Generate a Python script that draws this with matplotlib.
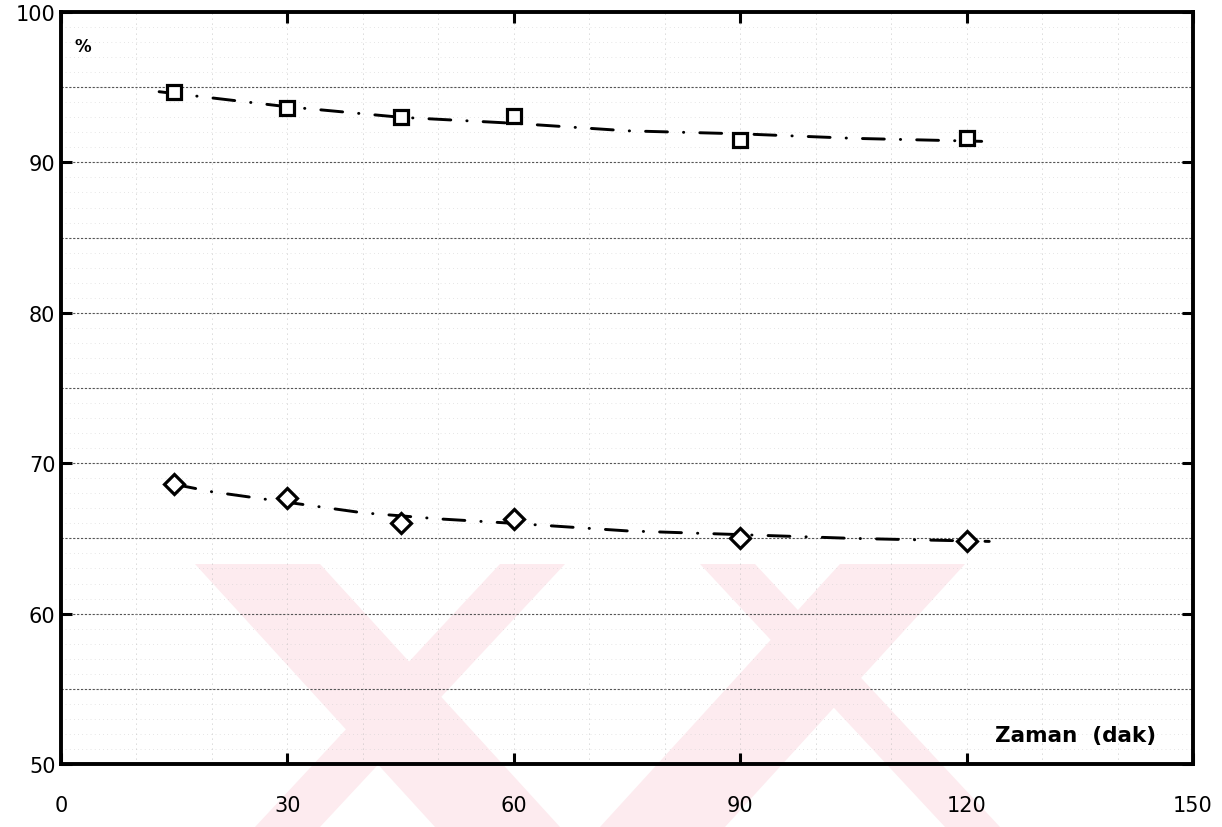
import numpy as np
import matplotlib.pyplot as plt
from matplotlib.patches import Polygon

# measured points (time in min, %)
t = [15, 30, 45, 60, 90, 120]
sq_vals = [94.7, 93.6, 93.0, 93.1, 91.5, 91.6]
di_vals = [68.6, 67.7, 66.0, 66.3, 65.0, 64.8]

# fitted curves as drawn on the plot
fit_sq_x = [13, 30, 45, 60, 75, 90, 105, 122]
fit_sq_y = [94.7, 93.7, 93.0, 92.6, 92.1, 91.9, 91.6, 91.4]
fit_di_x = [15, 20, 30, 40, 50, 60, 75, 90, 105, 123]
fit_di_y = [68.6, 68.1, 67.4, 66.7, 66.3, 66.0, 65.5, 65.25, 65.0, 64.8]

xticks = [0, 30, 60, 90, 120, 150]
yticks = [50, 60, 70, 80, 90, 100]

W, H = 1222, 828
fig = plt.figure(figsize=(W/100, H/100), dpi=100)

# faint watermark stripes behind everything
pink = '#fdebef'
stripes = [
    [(195, 565), (320, 565), (560, 828), (435, 828)],
    [(500, 565), (565, 565), (320, 828), (255, 828)],
    [(840, 565), (965, 565), (725, 828), (600, 828)],
    [(700, 565), (755, 565), (1000, 828), (945, 828)],
]
for s in stripes:
    pts = [(px/W, 1 - py/H) for px, py in s]
    fig.patches.append(Polygon(pts, closed=True, transform=fig.transFigure,
                               facecolor=pink, edgecolor='none', zorder=-10))

ax = fig.add_axes([61/W, (H-765)/H, (1193-61)/W, (765-13)/H])
ax.set_facecolor('none')

# graph paper look
for y in np.arange(51, 100, 1.0):
    ax.axhline(y, color='#cfcfcf', lw=0.5, ls=(0, (1, 5)), zorder=1)
for y in range(55, 100, 5):
    ax.axhline(y, color='#555555', lw=0.8, ls=(0, (2, 1.5)), zorder=1)
for x in range(10, 150, 10):
    ax.axvline(x, color='#b5b5b5', lw=0.6, ls=(0, (1, 5)), zorder=1)

dash = (0, (7.5, 5.5, 0.1, 5.5))
ax.plot(fit_sq_x, fit_sq_y, color='black', lw=2.1, ls=dash, dash_capstyle='round', zorder=3)
ax.plot(fit_di_x, fit_di_y, color='black', lw=2.1, ls=dash, dash_capstyle='round', zorder=3)
ax.plot(t, sq_vals, ls='none', marker='s', ms=10, mfc='white', mec='black', mew=2.3, zorder=4)
ax.plot(t, di_vals, ls='none', marker='D', ms=10.5, mfc='white', mec='black', mew=2.3, zorder=4)

ax.set_xlim(0, 150)
ax.set_ylim(50, 100)
ax.set_xticks(xticks)
ax.set_yticks(yticks)
ax.tick_params(axis='both', direction='in', length=8, width=2.2, labelsize=15,
               top=True, right=True, colors='black')
ax.tick_params(axis='x', pad=22)
ax.tick_params(axis='y', pad=4)
for sp in ax.spines.values():
    sp.set_linewidth(2.8)

ax.text(0.012, 0.955, '%', transform=ax.transAxes, fontsize=12, fontweight='bold',
        ha='left', va='center')
ax.text(0.967, 0.038, 'Zaman  (dak)', transform=ax.transAxes, fontsize=15.5,
        fontweight='bold', ha='right', va='center')

plt.savefig('out.png', dpi=100)
